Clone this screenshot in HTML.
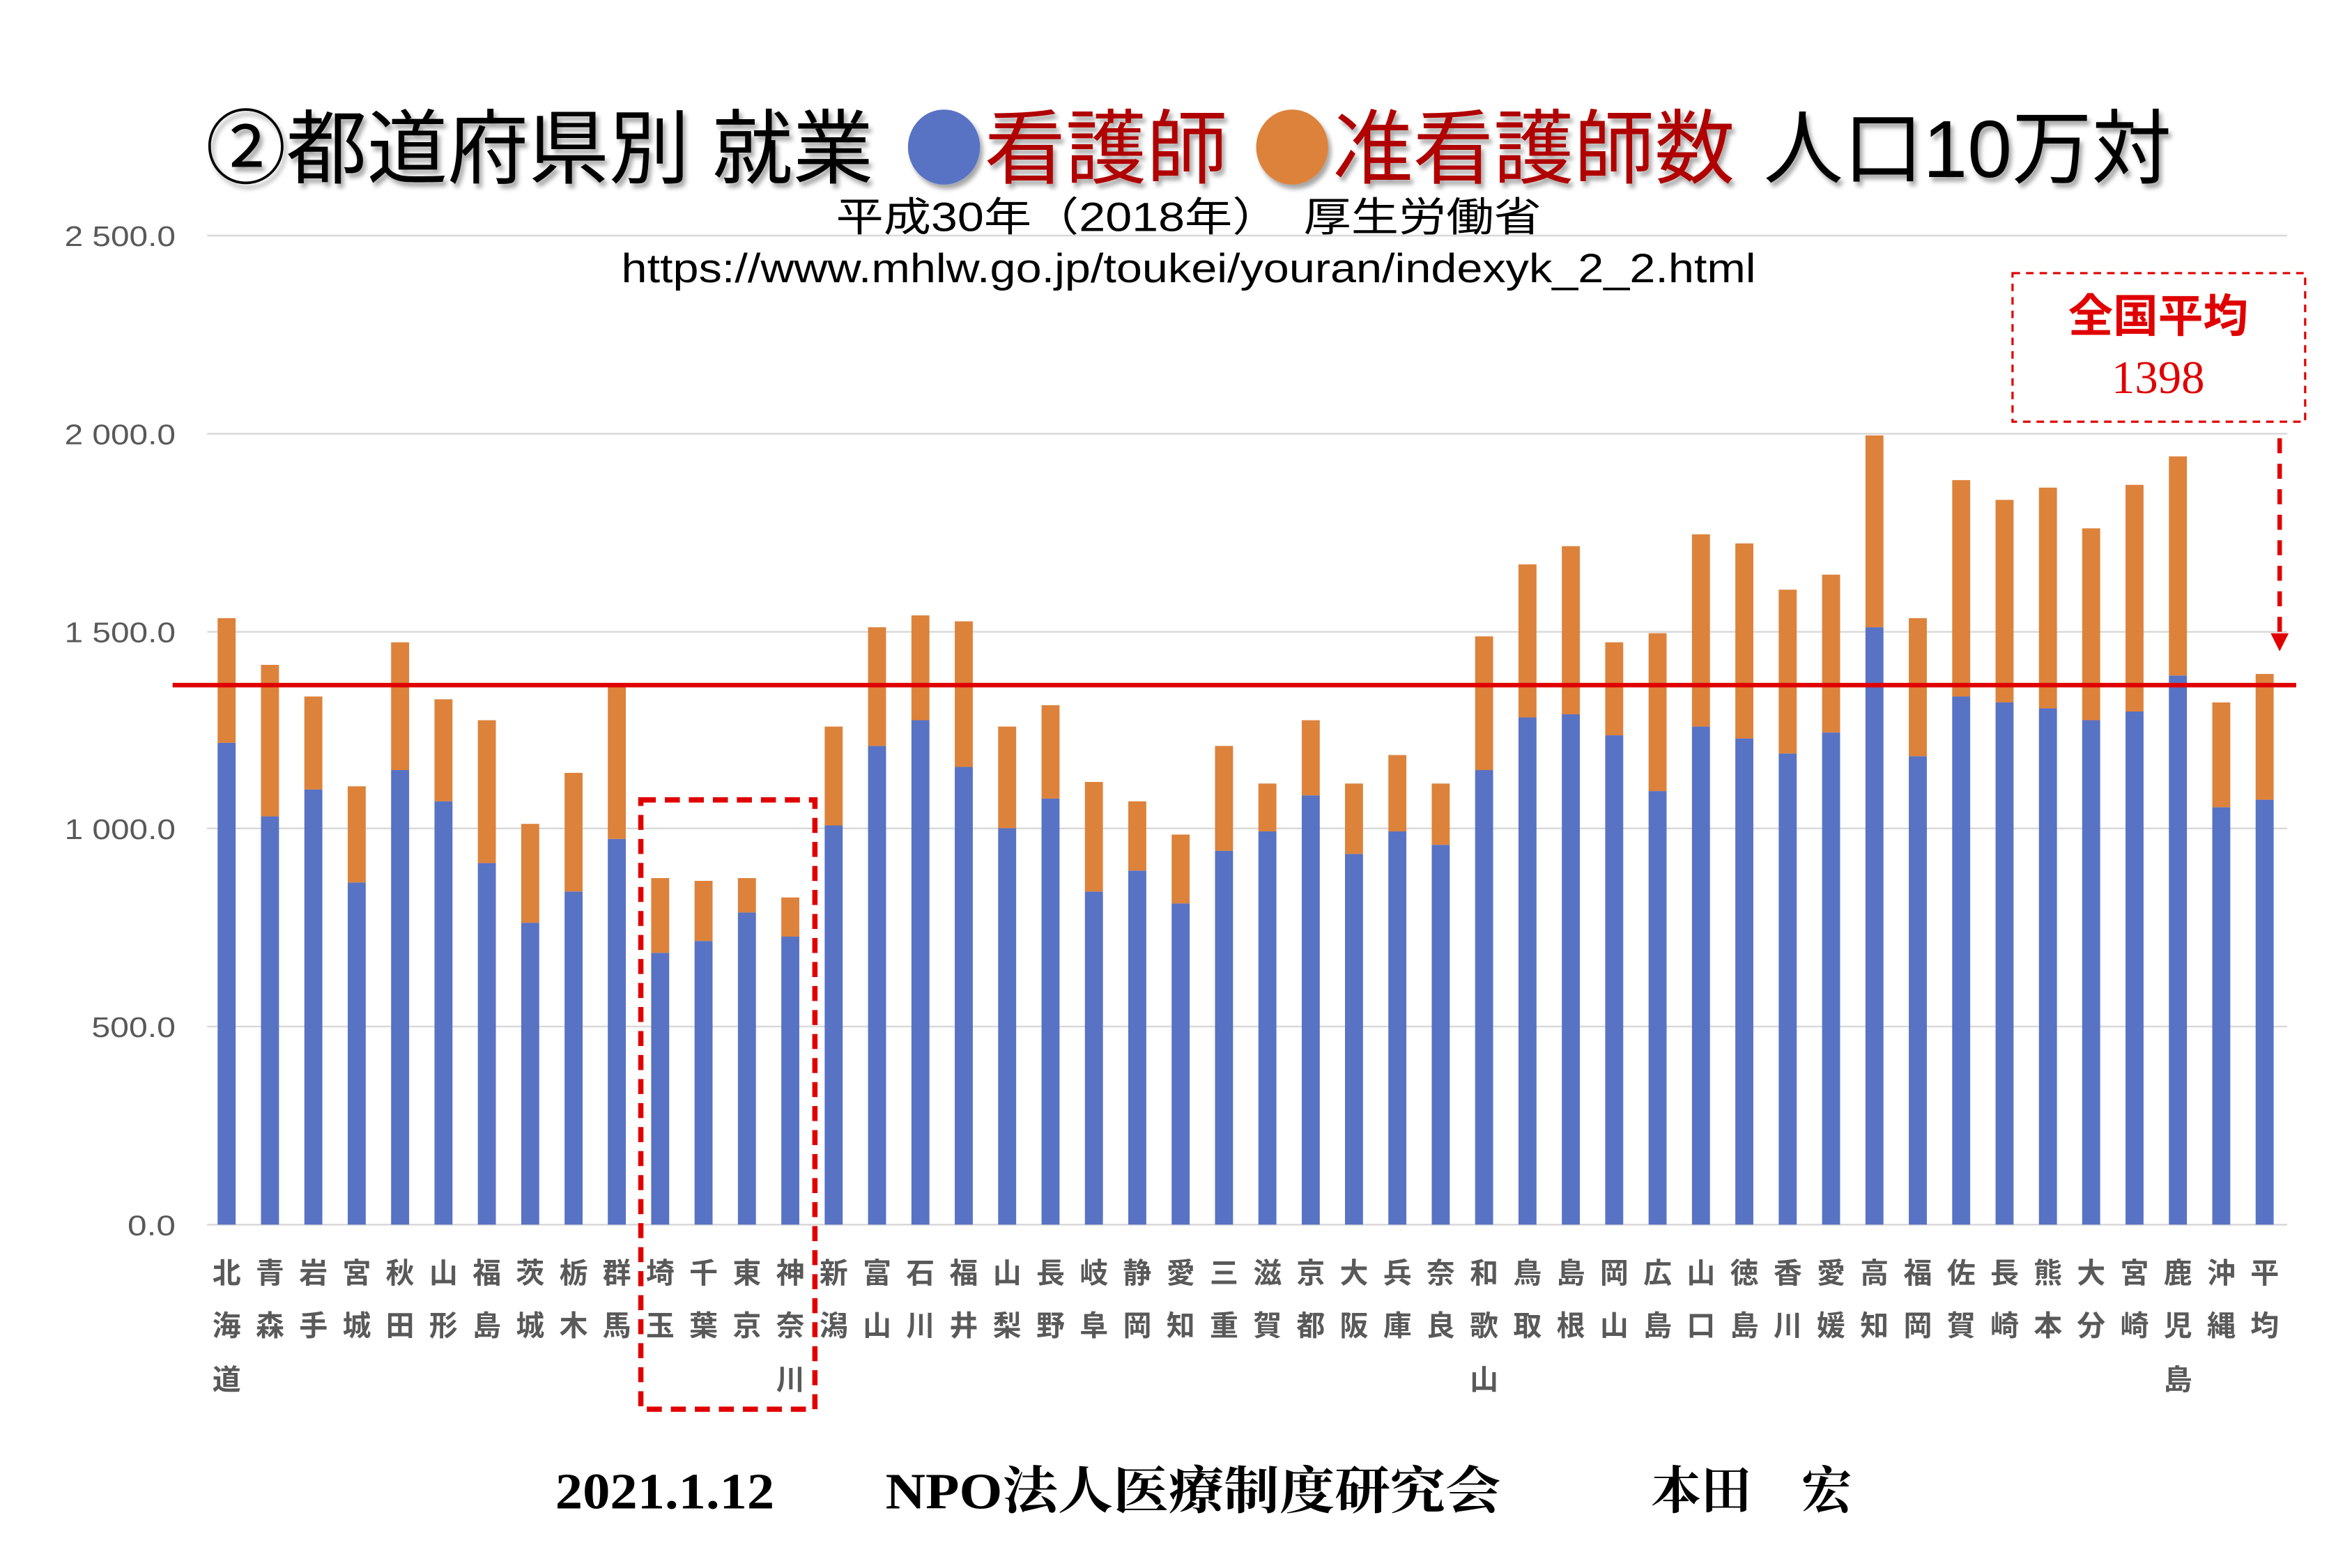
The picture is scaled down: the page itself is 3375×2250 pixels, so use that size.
<!DOCTYPE html>
<html><head><meta charset="utf-8"><style>
html,body{margin:0;padding:0;background:#fff;}
svg{display:block;}
.jp{font-family:"Liberation Sans","Noto Sans CJK JP",sans-serif;}
.ax{font-family:"Liberation Sans","Noto Sans CJK JP",sans-serif;font-size:19px;fill:#595959;}
.xl{font-family:"Liberation Sans","Noto Sans CJK JP",sans-serif;font-size:19px;fill:#595959;font-weight:bold;text-anchor:middle;}
</style></head><body>
<svg width="3375" height="2250" viewBox="0 0 1567.2 1044.8" preserveAspectRatio="none" xmlns="http://www.w3.org/2000/svg">
<defs><filter id="sh" x="-5%" y="-5%" width="110%" height="120%"><feDropShadow dx="2" dy="3" stdDeviation="1.5" flood-color="#000" flood-opacity="0.35"/></filter></defs>
<rect width="1567.2" height="1044.8" fill="#fff"/>
<g stroke="#d9d9d9" stroke-width="1.2">
<line x1="138" y1="157" x2="1524" y2="157"/><line x1="138" y1="289" x2="1524" y2="289"/><line x1="138" y1="421" x2="1524" y2="421"/><line x1="138" y1="552" x2="1524" y2="552"/><line x1="138" y1="684" x2="1524" y2="684"/><line x1="138" y1="816" x2="1524" y2="816"/>
</g>
<g class="ax" text-anchor="end">
<text x="117" y="164" textLength="74" lengthAdjust="spacingAndGlyphs">2 500.0</text><text x="117" y="296" textLength="74" lengthAdjust="spacingAndGlyphs">2 000.0</text><text x="117" y="428" textLength="74" lengthAdjust="spacingAndGlyphs">1 500.0</text><text x="117" y="559" textLength="74" lengthAdjust="spacingAndGlyphs">1 000.0</text><text x="117" y="691" textLength="56" lengthAdjust="spacingAndGlyphs">500.0</text><text x="117" y="823" textLength="32" lengthAdjust="spacingAndGlyphs">0.0</text>
</g>
<g transform="translate(0,816) scale(1,-0.2636)">
<g fill="#5872c4">
<rect x="145" width="12" height="1218"/><rect x="173.9" width="12" height="1032"/><rect x="202.8" width="12" height="1100"/><rect x="231.7" width="12" height="865"/><rect x="260.6" width="12" height="1149"/><rect x="289.5" width="12" height="1070"/><rect x="318.4" width="12" height="914"/><rect x="347.3" width="12" height="763"/><rect x="376.2" width="12" height="842"/><rect x="405" width="12" height="975"/><rect x="433.9" width="12" height="687"/><rect x="462.8" width="12" height="717"/><rect x="491.7" width="12" height="789"/><rect x="520.6" width="12" height="728"/><rect x="549.5" width="12" height="1009"/><rect x="578.4" width="12" height="1210"/><rect x="607.3" width="12" height="1275"/><rect x="636.2" width="12" height="1157"/><rect x="665.1" width="12" height="1002"/><rect x="694" width="12" height="1077"/><rect x="722.9" width="12" height="842"/><rect x="751.8" width="12" height="895"/><rect x="780.7" width="12" height="812"/><rect x="809.6" width="12" height="945"/><rect x="838.5" width="12" height="994"/><rect x="867.4" width="12" height="1085"/><rect x="896.2" width="12" height="937"/><rect x="925.1" width="12" height="994"/><rect x="954" width="12" height="960"/><rect x="982.9" width="12" height="1149"/><rect x="1011.8" width="12" height="1282"/><rect x="1040.7" width="12" height="1290"/><rect x="1069.6" width="12" height="1237"/><rect x="1098.5" width="12" height="1096"/><rect x="1127.4" width="12" height="1259"/><rect x="1156.3" width="12" height="1229"/><rect x="1185.2" width="12" height="1191"/><rect x="1214.1" width="12" height="1244"/><rect x="1243" width="12" height="1510"/><rect x="1271.9" width="12" height="1184"/><rect x="1300.8" width="12" height="1335"/><rect x="1329.7" width="12" height="1320"/><rect x="1358.6" width="12" height="1305"/><rect x="1387.4" width="12" height="1275"/><rect x="1416.3" width="12" height="1297"/><rect x="1445.2" width="12" height="1388"/><rect x="1474.1" width="12" height="1055"/><rect x="1503" width="12" height="1074"/>
</g>
<g fill="#dd823b">
<rect x="145" y="1218" width="12" height="315"/><rect x="173.9" y="1032" width="12" height="383"/><rect x="202.8" y="1100" width="12" height="235"/><rect x="231.7" y="865" width="12" height="243"/><rect x="260.6" y="1149" width="12" height="323"/><rect x="289.5" y="1070" width="12" height="258"/><rect x="318.4" y="914" width="12" height="361"/><rect x="347.3" y="763" width="12" height="250"/><rect x="376.2" y="842" width="12" height="300"/><rect x="405" y="975" width="12" height="391"/><rect x="433.9" y="687" width="12" height="189"/><rect x="462.8" y="717" width="12" height="152"/><rect x="491.7" y="789" width="12" height="87"/><rect x="520.6" y="728" width="12" height="99"/><rect x="549.5" y="1009" width="12" height="250"/><rect x="578.4" y="1210" width="12" height="300"/><rect x="607.3" y="1275" width="12" height="265"/><rect x="636.2" y="1157" width="12" height="368"/><rect x="665.1" y="1002" width="12" height="257"/><rect x="694" y="1077" width="12" height="236"/><rect x="722.9" y="842" width="12" height="277"/><rect x="751.8" y="895" width="12" height="175"/><rect x="780.7" y="812" width="12" height="174"/><rect x="809.6" y="945" width="12" height="265"/><rect x="838.5" y="994" width="12" height="121"/><rect x="867.4" y="1085" width="12" height="190"/><rect x="896.2" y="937" width="12" height="178"/><rect x="925.1" y="994" width="12" height="193"/><rect x="954" y="960" width="12" height="155"/><rect x="982.9" y="1149" width="12" height="338"/><rect x="1011.8" y="1282" width="12" height="387"/><rect x="1040.7" y="1290" width="12" height="425"/><rect x="1069.6" y="1237" width="12" height="235"/><rect x="1098.5" y="1096" width="12" height="399"/><rect x="1127.4" y="1259" width="12" height="486"/><rect x="1156.3" y="1229" width="12" height="493"/><rect x="1185.2" y="1191" width="12" height="414"/><rect x="1214.1" y="1244" width="12" height="399"/><rect x="1243" y="1510" width="12" height="485"/><rect x="1271.9" y="1184" width="12" height="349"/><rect x="1300.8" y="1335" width="12" height="547"/><rect x="1329.7" y="1320" width="12" height="512"/><rect x="1358.6" y="1305" width="12" height="558"/><rect x="1387.4" y="1275" width="12" height="485"/><rect x="1416.3" y="1297" width="12" height="573"/><rect x="1445.2" y="1388" width="12" height="554"/><rect x="1474.1" y="1055" width="12" height="265"/><rect x="1503" y="1074" width="12" height="318"/>
</g>
</g>
<line x1="115" y1="456.5" x2="1530" y2="456.5" stroke="#e00000" stroke-width="3"/>
<g class="xl">
<text y="855"><tspan x="151">北</tspan><tspan x="179.9">青</tspan><tspan x="208.8">岩</tspan><tspan x="237.7">宮</tspan><tspan x="266.6">秋</tspan><tspan x="295.5">山</tspan><tspan x="324.4">福</tspan><tspan x="353.3">茨</tspan><tspan x="382.2">栃</tspan><tspan x="411">群</tspan><tspan x="439.9">埼</tspan><tspan x="468.8">千</tspan><tspan x="497.7">東</tspan><tspan x="526.6">神</tspan><tspan x="555.5">新</tspan><tspan x="584.4">富</tspan><tspan x="613.3">石</tspan><tspan x="642.2">福</tspan><tspan x="671.1">山</tspan><tspan x="700">長</tspan><tspan x="728.9">岐</tspan><tspan x="757.8">静</tspan><tspan x="786.7">愛</tspan><tspan x="815.6">三</tspan><tspan x="844.5">滋</tspan><tspan x="873.4">京</tspan><tspan x="902.2">大</tspan><tspan x="931.1">兵</tspan><tspan x="960">奈</tspan><tspan x="988.9">和</tspan><tspan x="1017.8">鳥</tspan><tspan x="1046.7">島</tspan><tspan x="1075.6">岡</tspan><tspan x="1104.5">広</tspan><tspan x="1133.4">山</tspan><tspan x="1162.3">徳</tspan><tspan x="1191.2">香</tspan><tspan x="1220.1">愛</tspan><tspan x="1249">高</tspan><tspan x="1277.9">福</tspan><tspan x="1306.8">佐</tspan><tspan x="1335.7">長</tspan><tspan x="1364.6">熊</tspan><tspan x="1393.4">大</tspan><tspan x="1422.3">宮</tspan><tspan x="1451.2">鹿</tspan><tspan x="1480.1">沖</tspan><tspan x="1509">平</tspan></text>
<text y="890"><tspan x="151">海</tspan><tspan x="179.9">森</tspan><tspan x="208.8">手</tspan><tspan x="237.7">城</tspan><tspan x="266.6">田</tspan><tspan x="295.5">形</tspan><tspan x="324.4">島</tspan><tspan x="353.3">城</tspan><tspan x="382.2">木</tspan><tspan x="411">馬</tspan><tspan x="439.9">玉</tspan><tspan x="468.8">葉</tspan><tspan x="497.7">京</tspan><tspan x="526.6">奈</tspan><tspan x="555.5">潟</tspan><tspan x="584.4">山</tspan><tspan x="613.3">川</tspan><tspan x="642.2">井</tspan><tspan x="671.1">梨</tspan><tspan x="700">野</tspan><tspan x="728.9">阜</tspan><tspan x="757.8">岡</tspan><tspan x="786.7">知</tspan><tspan x="815.6">重</tspan><tspan x="844.5">賀</tspan><tspan x="873.4">都</tspan><tspan x="902.2">阪</tspan><tspan x="931.1">庫</tspan><tspan x="960">良</tspan><tspan x="988.9">歌</tspan><tspan x="1017.8">取</tspan><tspan x="1046.7">根</tspan><tspan x="1075.6">山</tspan><tspan x="1104.5">島</tspan><tspan x="1133.4">口</tspan><tspan x="1162.3">島</tspan><tspan x="1191.2">川</tspan><tspan x="1220.1">媛</tspan><tspan x="1249">知</tspan><tspan x="1277.9">岡</tspan><tspan x="1306.8">賀</tspan><tspan x="1335.7">崎</tspan><tspan x="1364.6">本</tspan><tspan x="1393.4">分</tspan><tspan x="1422.3">崎</tspan><tspan x="1451.2">児</tspan><tspan x="1480.1">縄</tspan><tspan x="1509">均</tspan></text>
<text y="926"><tspan x="151">道</tspan><tspan x="526.6">川</tspan><tspan x="988.9">山</tspan><tspan x="1451.2">島</tspan></text>
</g>
<rect x="427" y="533" width="116" height="406" fill="none" stroke="#e00000" stroke-width="3.5" stroke-dasharray="10,6"/>
<rect x="1341" y="182" width="195" height="99" fill="#fff" stroke="#e00000" stroke-width="1.5" stroke-dasharray="5,4"/>
<text x="1438" y="221" text-anchor="middle" class="jp" font-size="30" font-weight="bold" fill="#e00000">全国平均</text>
<text x="1438" y="262" text-anchor="middle" font-family="Liberation Serif,serif" font-size="31" fill="#e00000">1398</text>
<line x1="1519" y1="292" x2="1519" y2="424" stroke="#e00000" stroke-width="3" stroke-dasharray="10,7"/>
<polygon points="1513,422 1525,422 1519,434" fill="#e00000"/>
<g filter="url(#sh)" class="jp" font-size="54">
<text x="137" y="118" textLength="445" lengthAdjust="spacingAndGlyphs" fill="#000">②都道府県別 就業</text>
<ellipse cx="629" cy="98" rx="24" ry="25" fill="#5872c4"/>
<text x="656" y="118" textLength="162" lengthAdjust="spacingAndGlyphs" fill="#b00000">看護師</text>
<ellipse cx="861" cy="98" rx="24" ry="25" fill="#dd823b"/>
<text x="888" y="118" textLength="268" lengthAdjust="spacingAndGlyphs" fill="#b00000">准看護師数</text>
<text x="1175" y="118" textLength="272" lengthAdjust="spacingAndGlyphs" fill="#000">人口10万対</text>
</g>
<text x="557" y="154" class="jp" font-size="27" textLength="470" lengthAdjust="spacingAndGlyphs" fill="#000">平成30年（2018年）　厚生労働省</text>
<text x="414" y="188" class="jp" font-size="27" textLength="756" lengthAdjust="spacingAndGlyphs" fill="#000">https://www.mhlw.go.jp/toukei/youran/indexyk_2_2.html</text>
<g font-family="Liberation Serif,Noto Serif CJK SC,serif" font-weight="bold" font-size="34" fill="#000">
<text x="370" y="1005" textLength="146" lengthAdjust="spacingAndGlyphs">2021.1.12</text>
<text x="590" y="1005" textLength="410" lengthAdjust="spacingAndGlyphs">NPO法人医療制度研究会</text>
<text x="1100" y="1005" textLength="134" lengthAdjust="spacingAndGlyphs">本田　宏</text>
</g>
</svg>
</body></html>
